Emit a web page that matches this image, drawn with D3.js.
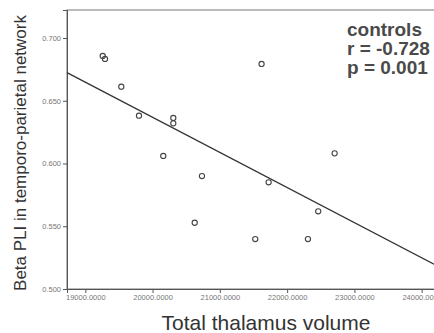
<!DOCTYPE html>
<html>
<head>
<meta charset="utf-8">
<script src="https://cdnjs.cloudflare.com/ajax/libs/d3/7.8.5/d3.min.js"></script>
<style>
  body { margin: 0; background: #fff; }
  svg { display: block; font-family: "Liberation Sans", Arial, sans-serif; }
</style>
</head>
<body>
<svg id="chart" width="434" height="333"></svg>
<script>
// thalamus volume (x) vs Beta PLI (y), controls group
var volume = [19259, 19293, 19535, 19798, 20308, 20308, 20159, 20734, 21620,
              21725, 22706, 22462, 20626, 21526, 22309];
var betaPLI = [0.6857, 0.6833, 0.6612, 0.6381, 0.6363, 0.6320, 0.6060, 0.5900, 0.6793,
               0.5850, 0.6081, 0.5619, 0.5528, 0.5398, 0.5398];
var fitX = [18728, 24183];
var fitY = [0.6724, 0.5197];
var xTicks = [19000, 20000, 21000, 22000, 23000, 24000];
var yTicks = [0.500, 0.550, 0.600, 0.650, 0.700];
var statLines = ["controls", "r = -0.728", "p = 0.001"];

var plotLeft = 67, plotRight = 434, plotTop = 10, plotBottom = 289;

var svg = d3.select("#chart");

var x = d3.scaleLinear().domain([18728, 24183]).range([plotLeft, plotRight]);
var y = d3.scaleLinear().domain([0.500, 0.7223]).range([plotBottom, plotTop]);

// frame
svg.append("rect")
  .attr("x", plotLeft).attr("y", plotTop)
  .attr("width", plotRight - plotLeft + 5).attr("height", plotBottom - plotTop)
  .attr("fill", "none")
  .attr("stroke", "#777")
  .attr("stroke-width", 1);

var xAxis = svg.append("g")
  .attr("transform", "translate(0," + plotBottom + ")")
  .call(d3.axisBottom(x).tickValues(xTicks).tickSize(4).tickPadding(2)
        .tickFormat(function(d) { return d.toFixed(4); }));

var yAxis = svg.append("g")
  .attr("transform", "translate(" + plotLeft + ",0)")
  .call(d3.axisLeft(y).tickValues(yTicks).tickSize(4).tickPadding(2)
        .tickFormat(d3.format(".3f")));

[xAxis, yAxis].forEach(function(g) {
  g.select(".domain").attr("stroke", "#555");
  g.selectAll(".tick line").attr("stroke", "#555");
  g.selectAll(".tick text")
    .attr("fill", "#777")
    .style("font-size", "7.5px")
    .style("font-family", "'Liberation Sans', Arial, sans-serif");
});

// fit line
svg.append("line")
  .attr("x1", x(fitX[0])).attr("y1", y(fitY[0]))
  .attr("x2", x(fitX[1])).attr("y2", y(fitY[1]))
  .attr("stroke", "#333")
  .attr("stroke-width", 1.3);

// points
svg.selectAll(".pt")
  .data(volume)
  .enter().append("circle")
    .attr("class", "pt")
    .attr("cx", function(d) { return x(d); })
    .attr("cy", function(d, i) { return y(betaPLI[i]); })
    .attr("r", 2.6)
    .attr("fill", "none")
    .attr("stroke", "#444")
    .attr("stroke-width", 1.1);

// stats text
svg.selectAll(".stat")
  .data(statLines)
  .enter().append("text")
    .attr("class", "stat")
    .attr("x", 347)
    .attr("y", function(d, i) { return 36 + i * 19; })
    .attr("fill", "#4a4a4a")
    .style("font-size", "19px")
    .style("font-weight", "bold")
    .text(function(d) { return d; });

// axis titles
svg.append("text")
  .attr("x", 266).attr("y", 330)
  .attr("text-anchor", "middle")
  .attr("fill", "#333")
  .style("font-size", "21px")
  .text("Total thalamus volume");

svg.append("text")
  .attr("transform", "translate(26,153) rotate(-90)")
  .attr("text-anchor", "middle")
  .attr("fill", "#333")
  .style("font-size", "17px")
  .text("Beta PLI in temporo-parietal network");
</script>
</body>
</html>
